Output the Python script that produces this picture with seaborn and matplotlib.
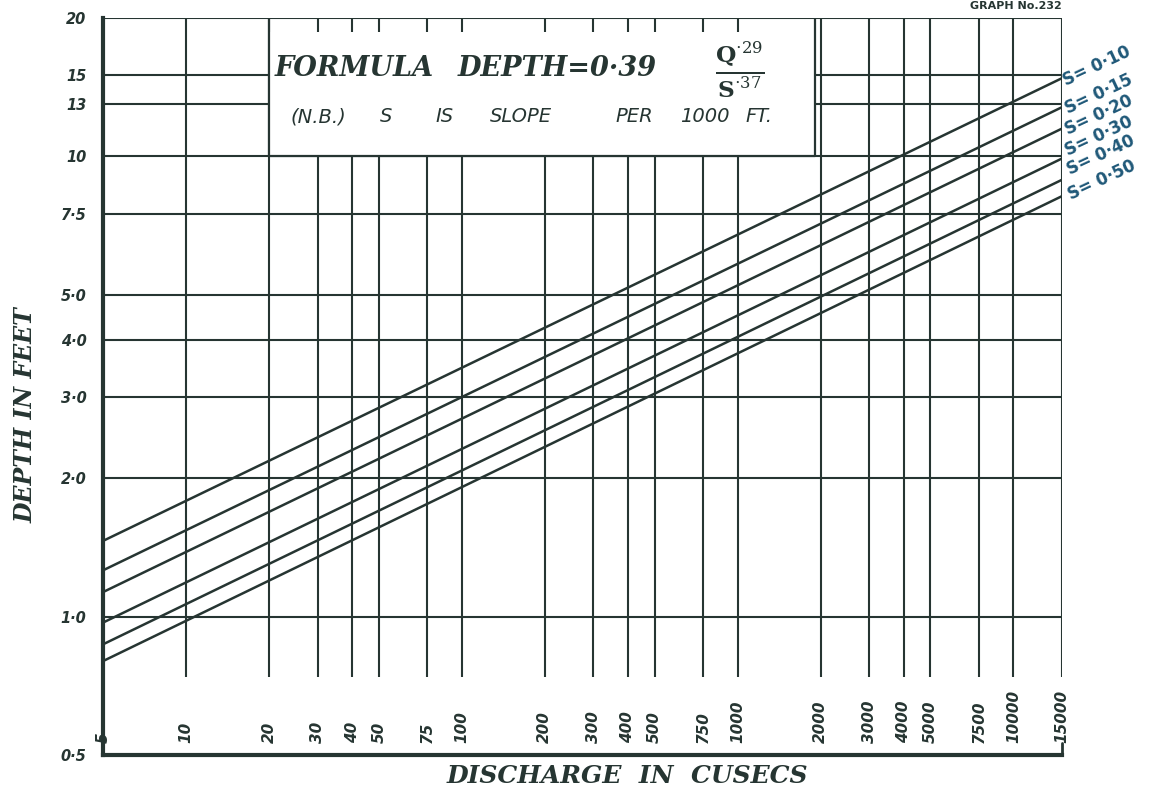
import matplotlib
matplotlib.use("Agg")
import numpy as np
import pandas as pd
import matplotlib.pyplot as plt
import seaborn as sns

# discharge range covered by the sheet (cusecs)
q_ends = [5, 15000]
slopes = ["0·10", "0·15", "0·20", "0·30", "0·40", "0·50"]
# depth at the two ends of each slope line
depth_at_q5 = [1.46, 1.26, 1.13, 0.97, 0.87, 0.80]
depth_at_q15000 = [14.8, 12.8, 11.5, 9.9, 8.9, 8.2]

x_grid = [5, 10, 20, 30, 40, 50, 75, 100, 200, 300, 400, 500, 750,
          1000, 2000, 3000, 4000, 5000, 7500, 10000, 15000]
x_labels = ["5", "10", "20", "30", "40", "50", "75", "100", "200", "300",
            "400", "500", "750", "1000", "2000", "3000", "4000", "5000",
            "7500", "10000", "15000"]
y_grid = [0.5, 1.0, 2.0, 3.0, 4.0, 5.0, 7.5, 10, 13, 15, 20]
y_labels = ["0·5", "1·0", "2·0", "3·0", "4·0", "5·0", "7·5", "10", "13",
            "15", "20"]
note_words = ["(N.B.)", "S", "IS", "SLOPE", "PER", "1000", "FT."]

INK = "#263532"
BLUE = "#1f5878"
W, H = 1154, 799

sns.set_style("white")
plt.rcParams["font.family"] = ["DejaVu Sans"]
plt.rcParams["mathtext.fontset"] = "dejavuserif"

# long table for seaborn: one row per end point of each slope line
rows = []
for s, d0, d1 in zip(slopes, depth_at_q5, depth_at_q15000):
    rows.append({"Q": q_ends[0], "depth": d0, "S": s})
    rows.append({"Q": q_ends[1], "depth": d1, "S": s})
df = pd.DataFrame(rows)

fig = plt.figure(figsize=(W / 100, H / 100), dpi=100)
ax = fig.add_axes([103 / W, 1 - 755 / H, 959 / W, 737 / H])
ax.set_xscale("log")
ax.set_yscale("log")
ax.set_xlim(5, 15000)
ax.set_ylim(0.5, 20)

# grid of the chart paper
ax.vlines(x_grid[1:], 0.74, 20, color=INK, lw=1.5, zorder=2)
ax.hlines(y_grid[1:], 5, 15000, color=INK, lw=1.5, zorder=2)

# formula panel sits over the grid, top left
ax.fill_between([20, 1900], 10, 18.6, color="white", zorder=3, lw=0)
ax.plot([20, 20, 1900, 1900], [20, 10, 10, 20], color=INK, lw=1.6, zorder=4)

sns.lineplot(data=df, x="Q", y="depth", hue="S",
             palette=[INK] * len(slopes), lw=1.8, legend=False,
             ax=ax, zorder=5)

for sp in ["top", "right"]:
    ax.spines[sp].set_visible(False)
ax.spines["left"].set_linewidth(3)
ax.spines["bottom"].set_linewidth(3)
ax.spines["left"].set_color(INK)
ax.spines["bottom"].set_color(INK)

ax.set_yticks(y_grid)
ax.set_yticklabels(y_labels)
ax.yaxis.set_minor_locator(matplotlib.ticker.NullLocator())
ax.tick_params(axis="y", direction="out", length=9, width=1.5, color=INK,
               pad=3, labelsize=10.5, labelcolor=INK)
for t in ax.get_yticklabels():
    t.set_fontweight("bold")
    t.set_fontstyle("italic")

ax.set_xticks(x_grid)
ax.set_xticklabels([])
ax.xaxis.set_minor_locator(matplotlib.ticker.NullLocator())
ax.tick_params(axis="x", direction="in", length=8, width=1.5, color=INK)
ax.plot([15000, 15000], [0.5, 0.53], color=INK, lw=2, clip_on=False, zorder=6)

# discharge labels stand upright inside the bottom strip
for xv, lab in zip(x_grid, x_labels):
    ax.text(xv, 0.016, lab, transform=ax.get_xaxis_transform(),
            rotation=90, ha="center", va="bottom", fontsize=11,
            fontweight="bold", fontstyle="italic", color=INK)

ax.set_xlabel("DISCHARGE  IN  CUSECS", fontsize=18, family="DejaVu Serif",
              fontweight="bold", fontstyle="italic", color=INK)
ax.xaxis.label.set_va("center")
ax.xaxis.set_label_coords(0.547, -0.029)
ax.set_ylabel("DEPTH IN FEET", fontsize=17, family="DejaVu Serif",
              fontweight="bold", fontstyle="italic", color=INK)
ax.yaxis.label.set_va("center")
ax.yaxis.set_label_coords(-0.081, 0.461)

# slope labels fanned out at the right hand end (pixel nudges, up positive)
nudge = [(6, -11), (8, -10), (8, -10), (8, -1), (10, 1), (11, -7)]
for s, d1, (dx, dy) in zip(slopes, depth_at_q15000, nudge):
    ax.annotate(f"S= {s}", xy=(15000, d1), xytext=(dx, dy),
                textcoords="offset pixels", rotation=25,
                rotation_mode="anchor", ha="left", va="bottom",
                fontsize=12, fontweight="bold", color=BLUE,
                annotation_clip=False)


def px(x, y):
    return x / W, 1 - y / H


fig.text(*px(275, 69), "FORMULA", ha="left", va="center",
         fontsize=19.5, family="DejaVu Serif", fontweight="bold",
         fontstyle="italic", color=INK)
fig.text(*px(458, 69), "DEPTH=0·39", ha="left", va="center",
         fontsize=19.5, family="DejaVu Serif", fontweight="bold",
         fontstyle="italic", color=INK)
fig.text(*px(740, 70), r"$\frac{\mathbf{Q}^{\cdot 29}}{\mathbf{S}^{\cdot 37}}$",
         ha="center", va="center", fontsize=24, color=INK)
note_x = [290, 380, 435, 490, 615, 680, 745]
for wx, word in zip(note_x, note_words):
    fig.text(*px(wx, 117), word, ha="left", va="center", fontsize=14,
             fontstyle="italic", color=INK)
fig.text(*px(1062, 1), "GRAPH No.232", ha="right", va="top", fontsize=8,
         fontweight="bold", color=INK)

fig.savefig("out.png", dpi=100, facecolor="white")
